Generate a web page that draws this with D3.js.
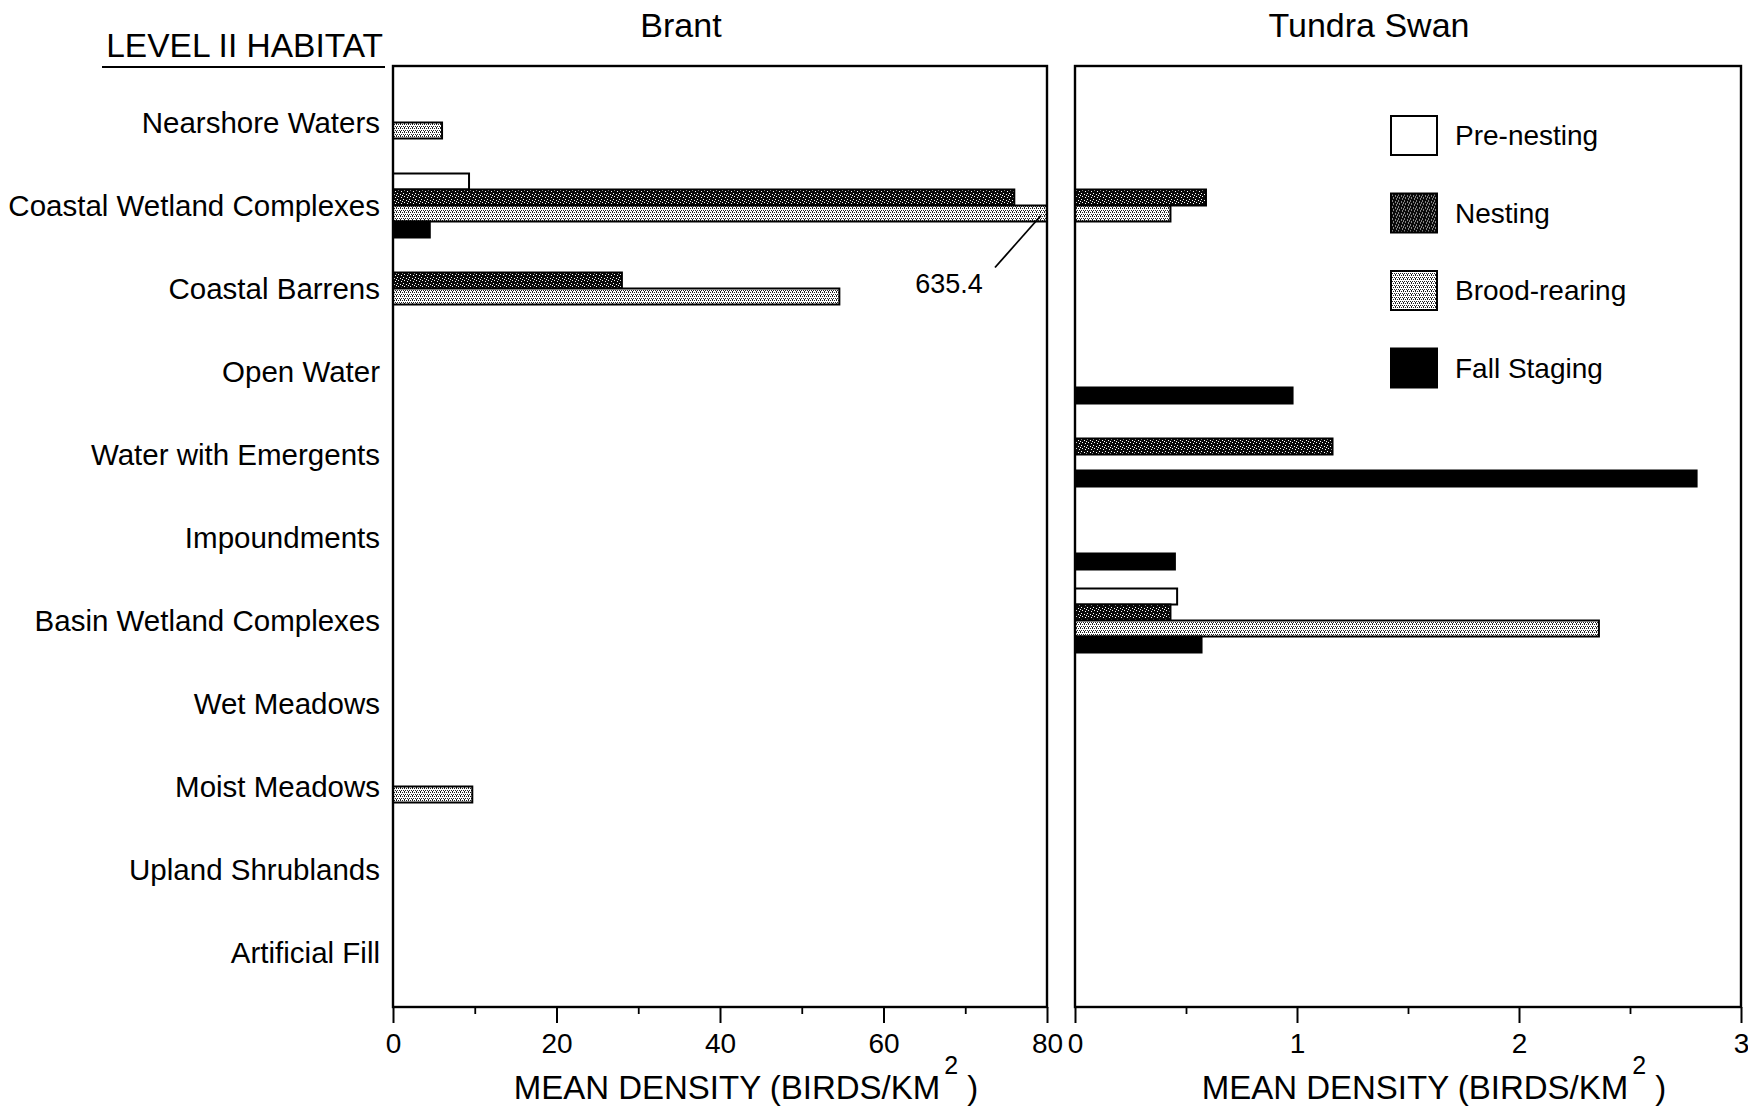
<!DOCTYPE html>
<html>
<head>
<meta charset="utf-8">
<script src="https://cdn.jsdelivr.net/npm/d3@7"></script>
<style>
  body { margin: 0; background: #fff; }
  svg { display: block; }
  text { font-family: "Liberation Sans", Arial, Helvetica, sans-serif; fill: #000; }
</style>
</head>
<body>
<div id="chart"></div>
<script>
const habitats = [
    'Nearshore Waters', 'Coastal Wetland Complexes', 'Coastal Barrens', 'Open Water',
    'Water with Emergents', 'Impoundments', 'Basin Wetland Complexes', 'Wet Meadows',
    'Moist Meadows', 'Upland Shrublands', 'Artificial Fill'
]
const seasons = ['Pre-nesting', 'Nesting', 'Brood-rearing', 'Fall Staging']

// Brant, mean density (birds/km2)
const brantPreNesting   = [0, 9.3, 0, 0, 0, 0, 0, 0, 0, 0, 0]
const brantNesting      = [0, 76.0, 28.0, 0, 0, 0, 0, 0, 0, 0, 0]
const brantBroodRearing = [6.0, 635.4, 54.6, 0, 0, 0, 0, 0, 9.7, 0, 0]
const brantFallStaging  = [0, 4.5, 0, 0, 0, 0, 0, 0, 0, 0, 0]

// Tundra Swan, mean density (birds/km2)
const swanPreNesting   = [0, 0, 0, 0, 0, 0, 0.46, 0, 0, 0, 0]
const swanNesting      = [0, 0.59, 0, 0, 1.16, 0, 0.43, 0, 0, 0, 0]
const swanBroodRearing = [0, 0.43, 0, 0, 0, 0, 2.36, 0, 0, 0, 0]
const swanFallStaging  = [0, 0, 0, 0.98, 2.80, 0.45, 0.57, 0, 0, 0, 0]

const brantTicks = [0, 20, 40, 60, 80]
const brantMinor = [10, 30, 50, 70]
const swanTicks = [0, 1, 2, 3]
const swanMinor = [0.5, 1.5, 2.5]

const width = 1748
const height = 1108
const plotTop = 66
const plotBottom = 1007

const svg = d3.select('#chart')
    .append('svg')
    .attr('width', width)
    .attr('height', height)

// fills for the four seasons
const defs = svg.append('defs')
const nestPat = defs.append('pattern')
    .attr('id', 'pat-nesting')
    .attr('patternUnits', 'userSpaceOnUse')
    .attr('width', 6).attr('height', 6)
nestPat.append('rect').attr('width', 6).attr('height', 6).attr('fill', '#0a0a0a')
;[[1, 1], [4, 2], [2, 4], [5, 5], [0, 3]].forEach(([x, y]) => {
    nestPat.append('rect').attr('x', x).attr('y', y).attr('width', 1).attr('height', 1).attr('fill', '#fff')
})
const broodPat = defs.append('pattern')
    .attr('id', 'pat-brood')
    .attr('patternUnits', 'userSpaceOnUse')
    .attr('width', 4).attr('height', 4)
broodPat.append('rect').attr('width', 4).attr('height', 4).attr('fill', '#fff')
;[[0, 0], [2, 0], [1, 2], [3, 2], [0, 3]].forEach(([x, y]) => {
    broodPat.append('rect').attr('x', x).attr('y', y).attr('width', 1).attr('height', 1).attr('fill', '#222')
})

const fill = d3.scaleOrdinal()
    .domain(seasons)
    .range(['#fff', 'url(#pat-nesting)', 'url(#pat-brood)', '#000'])

const y = d3.scaleBand()
    .domain(habitats)
    .range([81, 994])

const ySeason = d3.scaleBand()
    .domain(seasons)
    .range([-32, 32])

const panels = [
    {
        title: 'Brant', left: 393, right: 1047, max: 80,
        ticks: brantTicks, minor: brantMinor,
        series: [brantPreNesting, brantNesting, brantBroodRearing, brantFallStaging]
    },
    {
        title: 'Tundra Swan', left: 1075, right: 1741, max: 3,
        ticks: swanTicks, minor: swanMinor,
        series: [swanPreNesting, swanNesting, swanBroodRearing, swanFallStaging]
    }
]

panels.forEach((p) => {
    const x = d3.scaleLinear().domain([0, p.max]).range([p.left, p.right])
    const g = svg.append('g')

    const rows = []
    p.series.forEach((vals, si) => {
        vals.forEach((v, hi) => {
            if (v > 0) rows.push({ habitat: habitats[hi], season: seasons[si], value: v })
        })
    })

    g.selectAll('rect.bar')
        .data(rows)
        .enter()
        .append('rect')
        .attr('class', 'bar')
        .attr('x', x(0))
        .attr('y', (d) => y(d.habitat) + y.bandwidth() / 2 + ySeason(d.season))
        .attr('width', (d) => x(Math.min(d.value, p.max)) - x(0))
        .attr('height', ySeason.bandwidth())
        .attr('fill', (d) => fill(d.season))
        .attr('stroke', '#000')
        .attr('stroke-width', 2)

    // off-scale value label
    rows.filter((d) => d.value > p.max).forEach((d) => {
        const by = y(d.habitat) + y.bandwidth() / 2 + ySeason(d.season) + ySeason.bandwidth() / 2
        g.append('line')
            .attr('x1', x(p.max) - 6).attr('y1', by + 2)
            .attr('x2', x(p.max) - 52).attr('y2', by + 54)
            .attr('stroke', '#000').attr('stroke-width', 1.8)
        g.append('text')
            .attr('x', x(p.max) - 98).attr('y', by + 79)
            .attr('text-anchor', 'middle')
            .style('font-size', '27px')
            .text(d.value.toFixed(1))
    })

    g.append('rect')
        .attr('x', p.left).attr('y', plotTop)
        .attr('width', p.right - p.left).attr('height', plotBottom - plotTop)
        .attr('fill', 'none').attr('stroke', '#000').attr('stroke-width', 2.4)

    const axis = g.append('g')
        .attr('transform', `translate(0, ${plotBottom})`)
        .call(d3.axisBottom(x).tickValues(p.ticks).tickSize(16).tickPadding(10).tickFormat(d3.format('d')))
    axis.select('.domain').remove()
    axis.selectAll('line').attr('stroke-width', 2)
    axis.selectAll('text')
        .style('font-size', '28px')
        .style('font-family', '"Liberation Sans", Arial, sans-serif')

    const minorAxis = g.append('g')
        .attr('transform', `translate(0, ${plotBottom})`)
        .call(d3.axisBottom(x).tickValues(p.minor).tickSize(7).tickFormat(''))
    minorAxis.select('.domain').remove()
    minorAxis.selectAll('line').attr('stroke-width', 1.8)

    g.append('text')
        .attr('x', (p.left + p.right) / 2 - 39)
        .attr('y', 37)
        .attr('text-anchor', 'middle')
        .style('font-size', '34px')
        .text(p.title)

    const xt = g.append('text')
        .attr('x', (p.left + p.right) / 2 + 26)
        .attr('y', 1099)
        .attr('text-anchor', 'middle')
        .style('font-size', '33px')
    xt.append('tspan').text('MEAN DENSITY (BIRDS/KM')
    xt.append('tspan').attr('dx', 4).attr('dy', -25).style('font-size', '25px').text('2')
    xt.append('tspan').attr('dy', 25).text(' )')
})

// habitat labels
svg.append('g')
    .selectAll('text')
    .data(habitats)
    .enter()
    .append('text')
    .attr('x', 380)
    .attr('y', (d) => y(d) + y.bandwidth() / 2 + 10)
    .attr('text-anchor', 'end')
    .style('font-size', '29.5px')
    .text((d) => d)

svg.append('text')
    .attr('x', 383)
    .attr('y', 57)
    .attr('text-anchor', 'end')
    .style('font-size', '33.5px')
    .text('LEVEL II HABITAT')
svg.append('line')
    .attr('x1', 102).attr('x2', 385)
    .attr('y1', 67).attr('y2', 67)
    .attr('stroke', '#000').attr('stroke-width', 2)

// legend
const legend = svg.append('g')
    .attr('transform', 'translate(1391, 116)')
const legendItem = legend.selectAll('g')
    .data(seasons)
    .enter()
    .append('g')
    .attr('transform', (d, i) => `translate(0, ${i * 77.5})`)
legendItem.append('rect')
    .attr('width', 46)
    .attr('height', 39)
    .attr('fill', (d) => fill(d))
    .attr('stroke', '#000')
    .attr('stroke-width', 2)
legendItem.append('text')
    .attr('x', 64)
    .attr('y', 29)
    .style('font-size', '28px')
    .text((d) => d)
</script>
</body>
</html>
